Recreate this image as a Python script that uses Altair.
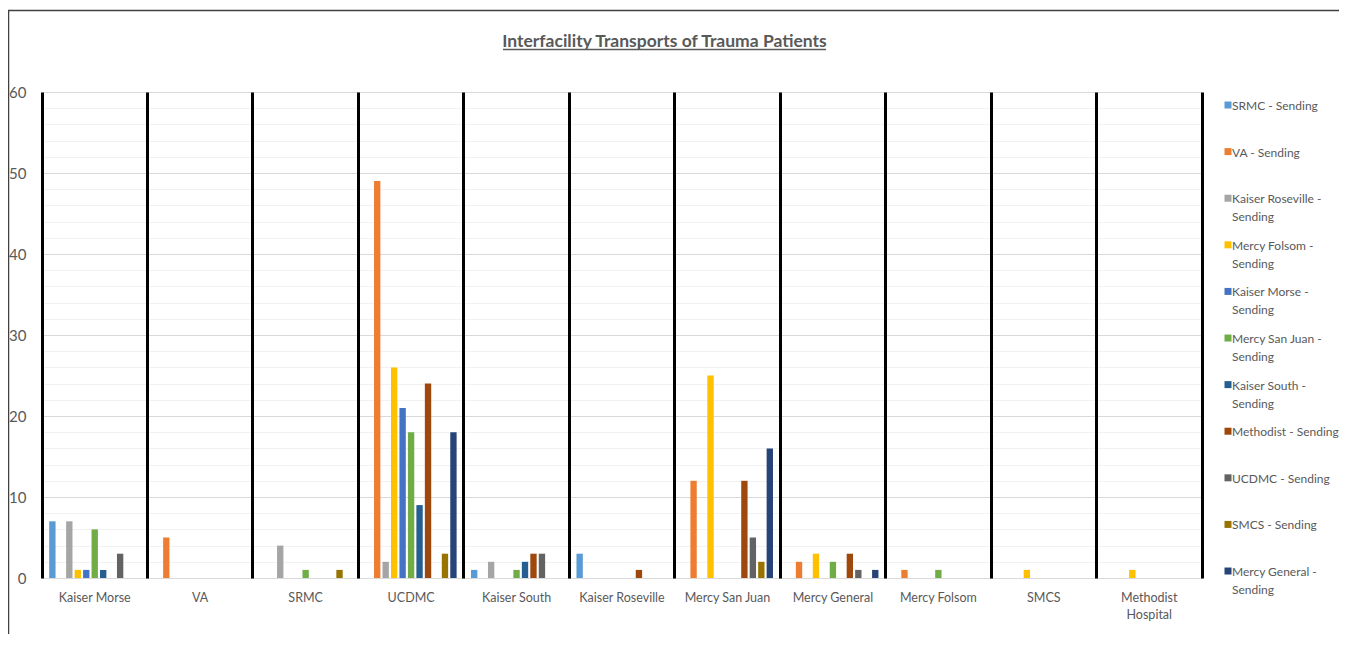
import altair as alt
import pandas as pd

# Receiving hospitals (x categories)
hospitals = ["Kaiser Morse", "VA", "SRMC", "UCDMC", "Kaiser South", "Kaiser Roseville",
             "Mercy San Juan", "Mercy General", "Mercy Folsom", "SMCS", "Methodist Hospital"]

# Sending series (legend order)
series = ["SRMC - Sending", "VA - Sending", "Kaiser Roseville - Sending", "Mercy Folsom - Sending",
          "Kaiser Morse - Sending", "Mercy San Juan - Sending", "Kaiser South - Sending",
          "Methodist - Sending", "UCDMC - Sending", "SMCS - Sending", "Mercy General - Sending"]

colors = ["#5B9BD5", "#ED7D31", "#A5A5A5", "#FFC000", "#4472C4", "#70AD47",
          "#255E91", "#9E480E", "#636363", "#997300", "#264478"]

# Values per series, in the order of `hospitals`
srmc_sending             = [7, 0, 0, 0, 1, 3, 0, 0, 0, 0, 0]
va_sending               = [0, 5, 0, 49, 0, 0, 12, 2, 1, 0, 0]
kaiser_roseville_sending = [7, 0, 4, 2, 2, 0, 0, 0, 0, 0, 0]
mercy_folsom_sending     = [1, 0, 0, 26, 0, 0, 25, 3, 0, 1, 1]
kaiser_morse_sending     = [1, 0, 0, 21, 0, 0, 0, 0, 0, 0, 0]
mercy_san_juan_sending   = [6, 0, 1, 18, 1, 0, 0, 2, 1, 0, 0]
kaiser_south_sending     = [1, 0, 0, 9, 2, 0, 0, 0, 0, 0, 0]
methodist_sending        = [0, 0, 0, 24, 3, 1, 12, 3, 0, 0, 0]
ucdmc_sending            = [3, 0, 0, 0, 3, 0, 5, 1, 0, 0, 0]
smcs_sending             = [0, 0, 1, 3, 0, 0, 2, 0, 0, 0, 0]
mercy_general_sending    = [0, 0, 0, 18, 0, 0, 16, 1, 0, 0, 0]

major_ticks = [0, 10, 20, 30, 40, 50, 60]
minor_ticks = [2, 4, 6, 8, 12, 14, 16, 18, 22, 24, 26, 28, 32, 34, 36, 38,
               42, 44, 46, 48, 52, 54, 56, 58]

title_text = "Interfacility Transports of Trauma Patients"

all_values = [srmc_sending, va_sending, kaiser_roseville_sending, mercy_folsom_sending,
              kaiser_morse_sending, mercy_san_juan_sending, kaiser_south_sending,
              methodist_sending, ucdmc_sending, smcs_sending, mercy_general_sending]

rows = []
for s, vals in zip(series, all_values):
    for h, v in zip(hospitals, vals):
        rows.append({"Hospital": h, "Series": s, "Count": v})
df = pd.DataFrame(rows)

FONT = "Lato"
TXT = "#595959"

# square legend symbol, nudged so it lines up with the first label line
SYMBOL_PATH = "M-0.43,-1.28H1.57V0.72H-0.43Z"

base = alt.Chart(df)

bars = base.mark_bar().encode(
    x=alt.X("Hospital:N", sort=hospitals,
            scale=alt.Scale(paddingInner=0, paddingOuter=0),
            axis=alt.Axis(title=None, orient="bottom", labelAngle=0, labelFont=FONT,
                          labelFontSize=12.5, labelColor=TXT, labelPadding=13,
                          ticks=False, domain=False, grid=False, labelLimit=120,
                          labelLineHeight=17, labelBaseline="top",
                          labelExpr="datum.label == 'Methodist Hospital' ? ['Methodist', 'Hospital'] : datum.label")),
    xOffset=alt.XOffset("Series:N", sort=series,
                        scale=alt.Scale(paddingInner=0.25, paddingOuter=0.85)),
    y=alt.Y("Count:Q", scale=alt.Scale(domain=[0, 60], nice=False),
            axis=alt.Axis(title=None, values=major_ticks, labelFont=FONT, labelFontSize=15,
                          labelColor=TXT, ticks=False, domain=False, grid=True,
                          gridColor="#D9D9D9", gridWidth=1, labelPadding=16)),
    color=alt.Color("Series:N", sort=series,
                    scale=alt.Scale(domain=series, range=colors),
                    legend=alt.Legend(
                        title=None, orient="none", legendX=1178, legendY=8,
                        labelFont=FONT, labelFontSize=12, labelColor=TXT,
                        labelLimit=200, labelOffset=0,
                        labelBaseline="middle",
                        labelExpr="length(datum.label) > 19 ? [replace(datum.label, ' Sending', ''), 'Sending'] : [datum.label, ' ']",
                        symbolType=SYMBOL_PATH, symbolSize=49, symbolStrokeWidth=0,
                        rowPadding=16.6, padding=0)),
)

guides = base.mark_bar(opacity=0).encode(
    x=alt.X("Hospital:N", sort=hospitals,
            axis=alt.Axis(title=None, orient="top", labels=False, ticks=False, domain=False,
                          grid=True, gridColor="black", gridWidth=3, bandPosition=0, zindex=1)),
    y=alt.Y("Count:Q",
            axis=alt.Axis(title=None, orient="right", values=minor_ticks, labels=False,
                          ticks=False, domain=True, domainColor="black", domainWidth=3,
                          grid=True, gridColor="#F2F2F2", gridWidth=1)),
)

one = pd.DataFrame({"k": [0]})
frame = alt.Chart(one).mark_rect(fill=None, stroke="#404040", strokeWidth=1.5).encode(
    x=alt.value(-33.5), y=alt.value(-81.5), x2=alt.value(1400), y2=alt.value(700))
title_mark = alt.Chart(one).mark_text(
    text=title_text, font=FONT, fontSize=17.5, fontWeight="bold", color=TXT,
    align="center", baseline="alphabetic").encode(
    x=alt.value(622.5), y=alt.value(-45))
underline = alt.Chart(one).mark_rule(color=TXT, strokeWidth=1.3).encode(
    x=alt.value(461), x2=alt.value(784), y=alt.value(-42.5))

chart = alt.layer(guides, bars, frame, title_mark, underline).resolve_axis(
    x="independent", y="independent"
).properties(
    width=1160, height=486,
    padding={"left": 34, "top": 84, "right": 137, "bottom": 56},
    autosize=alt.AutoSizeParams(type="none"),
).configure(
    background="white",
    style={"guide-label": {"lineHeight": 18}},
).configure_view(stroke=None)

chart.save("out.html", embed_options={"renderer": "svg", "actions": False})
